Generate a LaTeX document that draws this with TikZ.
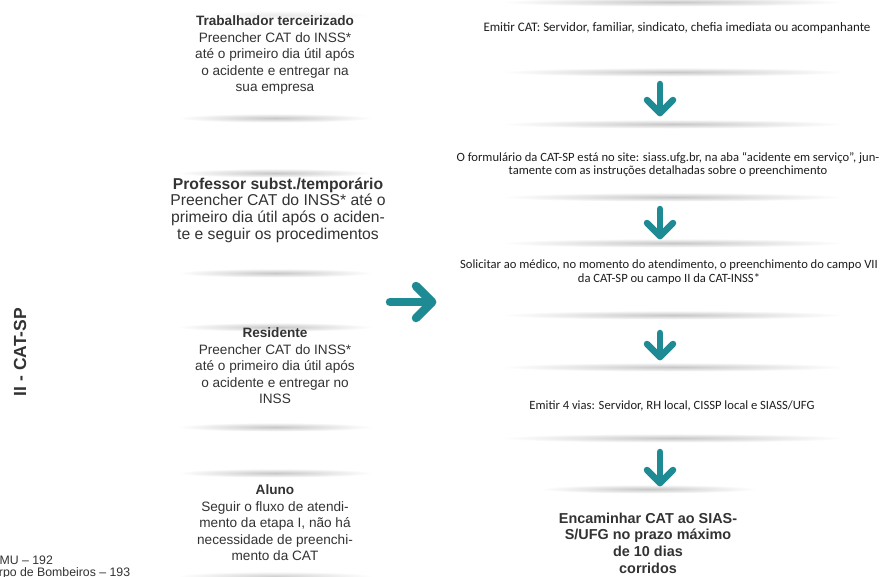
\documentclass[tikz,border=0pt]{standalone}
\usepackage{fontspec}
\setmainfont{Liberation Sans}
\newfontfamily\carl{Carlito}
\definecolor{teal1}{HTML}{1E8A94}
\definecolor{txtL}{HTML}{333333}
\definecolor{txtR}{HTML}{1E1E1E}
\newcommand{\shadowline}[4]{% cx, halfwidth, y, strength
  \shade[inner color=black!#4, outer color=white] (#1,#3) ellipse ({#2} and 4.5);
}
\begin{document}
\begin{tikzpicture}[x=1pt,y=-1pt,
  lefttxt/.style={text=txtL, align=center, inner sep=0pt, font=\fontsize{13.6}{16.5}\selectfont},
  leftbig/.style={text=txtL, align=center, inner sep=0pt, font=\fontsize{15.7}{16.7}\selectfont},
  righttxt/.style={text=txtR, align=center, inner sep=0pt, font=\carl\fontsize{12.6}{13.5}\selectfont},
  finaltxt/.style={text=txtL, align=center, inner sep=0pt, font=\bfseries\fontsize{14.4}{16.7}\selectfont},
  downarrow/.style={draw=teal1, line width=6.5pt, line cap=round, line join=round},
  bigarrow/.style={draw=teal1, line width=8.5pt, line cap=round, line join=round},
  sidetxt/.style={text=txtL, inner sep=0pt, font=\fontsize{12.3}{12.3}\selectfont}]
\useasboundingbox (0,0) rectangle (886,576);
\clip (0,0) rectangle (886,576);
\fill[white] (0,0) rectangle (886,576);

% left shadows
\shadowline{285}{85}{15}{8}
\shadowline{275}{98}{118}{22}
\shadowline{275}{98}{173}{22}
\shadowline{275}{98}{273}{22}
\shadowline{275}{98}{327}{22}
\shadowline{275}{98}{427}{22}
\shadowline{275}{98}{473}{22}
\shadowline{275}{98}{576}{18}
% right shadows
\shadowline{673}{172}{2}{22}
\shadowline{673}{172}{72}{22}
\shadowline{673}{172}{124}{22}
\shadowline{673}{172}{197}{22}
\shadowline{673}{172}{243}{22}
\shadowline{673}{172}{315}{22}
\shadowline{673}{172}{367}{22}
\shadowline{673}{172}{438}{22}
\shadowline{648}{108}{489}{22}

% left column
\node[lefttxt] (trab) at (275,55) {\textbf{Trabalhador terceirizado}\\Preencher CAT do INSS*\\até o primeiro dia útil após\\o acidente e entregar na\\sua empresa};
\node[leftbig] (prof) at (278,210) {\textbf{Professor subst./temporário}\\Preencher CAT do INSS* até o\\primeiro dia útil após o aciden-\\te e seguir os procedimentos};
\node[lefttxt] (resi) at (275,366) {\textbf{Residente}\\Preencher CAT do INSS*\\até o primeiro dia útil após\\o acidente e entregar no\\INSS};
\node[lefttxt] (alun) at (275,523) {\textbf{Aluno}\\Seguir o fluxo de atendi-\\mento da etapa I, não há\\necessidade de preenchi-\\mento da CAT};

% side label
\node[text=txtL, inner sep=0pt, font=\bfseries\fontsize{17.5}{17.5}\selectfont, rotate=90] (lbl) at (20,352) {II - CAT-SP};
\node[sidetxt, anchor=base west] (samu) at (-17,564) {SAMU – 192};
\node[sidetxt, anchor=base west] (bomb) at (-17,576) {Corpo de Bombeiros – 193};

% right column
\node[righttxt, font=\carl\fontsize{13}{13.5}\selectfont] (r1) at (677,28) {Emitir CAT: Servidor, familiar, sindicato, chefia imediata ou acompanhante};
\node[righttxt] (r2) at (668,164.5) {O formulário da CAT-SP está no site: siass.ufg.br, na aba “acidente em serviço”, jun-\\tamente com as instruções detalhadas sobre o preenchimento};
\node[righttxt] (r3) at (669,272) {Solicitar ao médico, no momento do atendimento, o preenchimento do campo VII\\da CAT-SP ou campo II da CAT-INSS*};
\node[righttxt] (r4) at (672,406) {Emitir 4 vias: Servidor, RH local, CISSP local e SIASS/UFG};
\node[finaltxt] (r5) at (648,543) {Encaminhar CAT ao SIAS-\\S/UFG no prazo máximo\\de 10 dias\\corridos};

% big arrow
\coordinate (ba1) at (390,302);
\coordinate (ba2) at (432,302);
\draw[bigarrow] (ba1) -- (ba2);
\draw[bigarrow] (416,286) -- (ba2) -- (416,318);

% down arrows
\foreach \t/\b [count=\i] in {84/113, 209/236, 333/357, 452/483}{
  \coordinate (dt\i) at (660,\t);
  \coordinate (db\i) at (660,\b);
  \draw[downarrow] (dt\i) -- (db\i);
  \draw[downarrow] (647,\b-13) -- (db\i) -- (673,\b-13);
}
\end{tikzpicture}
\end{document}
